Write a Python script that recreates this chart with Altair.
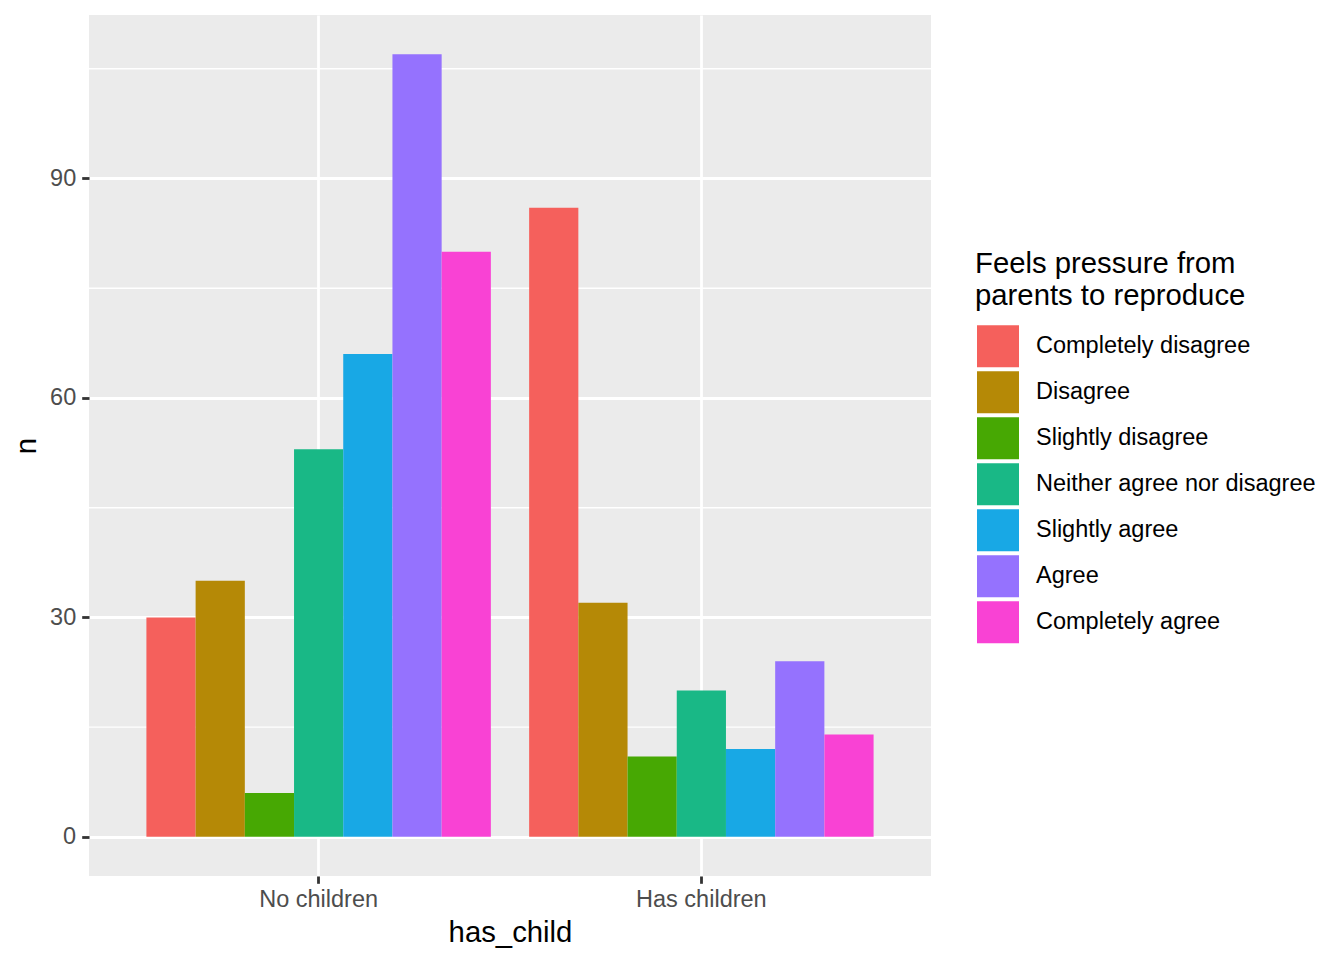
import altair as alt
import pandas as pd

groups = ["No children", "Has children"]
responses = ["Completely disagree", "Disagree", "Slightly disagree",
             "Neither agree nor disagree", "Slightly agree", "Agree",
             "Completely agree"]
n_no_children = [30, 35, 6, 53, 66, 107, 80]
n_has_children = [86, 32, 11, 20, 12, 24, 14]
colors = ["#F5605C", "#B58906", "#47A803", "#19B886", "#18A8E5", "#9572FE", "#F942D4"]
major_ticks = [0, 30, 60, 90]
minor_ticks = [15, 45, 75, 105]

rows = []
for g, vals in zip(groups, [n_no_children, n_has_children]):
    for r, v in zip(responses, vals):
        rows.append({"has_child": g, "response": r, "n": v})
df = pd.DataFrame(rows)
minor_df = pd.DataFrame({"minor": minor_ticks})

yscale = alt.Scale(domain=[-5.35, 112.35], nice=False, zero=False)
yaxis = alt.Axis(values=major_ticks, labelPadding=6, titlePadding=8, title="n")

minor = alt.Chart(minor_df).mark_rule(color="white", strokeWidth=1.4).encode(
    y=alt.Y("minor:Q", scale=yscale, axis=yaxis, title="n")
)

bars = alt.Chart(df).mark_bar().encode(
    x=alt.X("has_child:N", sort=groups, title="has_child",
            scale=alt.Scale(paddingInner=0.1, paddingOuter=0.15),
            axis=alt.Axis(grid=True, bandPosition=0.5, labelAngle=0,
                          labelPadding=4, titlePadding=8)),
    xOffset=alt.XOffset("response:N", sort=responses,
                        scale=alt.Scale(paddingInner=0, paddingOuter=0)),
    y=alt.Y("n:Q", scale=yscale, title="n", axis=yaxis),
    y2=alt.datum(0),
    color=alt.Color("response:N", sort=responses,
                    scale=alt.Scale(domain=responses, range=colors),
                    legend=alt.Legend(title=["Feels pressure from", "parents to reproduce"],
                                      orient="none", legendX=886, legendY=235,
                                      symbolType="square", symbolSize=1764,
                                      symbolStrokeWidth=0, symbolOffset=2,
                                      symbolOpacity=1, rowPadding=4,
                                      labelOffset=17, titlePadding=14,
                                      labelLimit=0, titleLimit=0)),
)

chart = alt.layer(minor, bars).properties(
    width=842, height=861,
    autosize=alt.AutoSizeParams(type="none"),
    padding={"left": 81, "top": 7, "right": 400, "bottom": 76},
).configure_view(
    fill="#EBEBEB", stroke=None
).configure_axis(
    labelFont="Liberation Sans", titleFont="Liberation Sans",
    labelFontSize=23.5, labelColor="#4D4D4D",
    titleFontSize=29.3, titleFontWeight="normal", titleColor="black",
    domain=False, tickColor="#333333", tickWidth=2.8, tickSize=7.3,
    gridColor="white", gridWidth=2.8,
).configure_legend(
    labelFont="Liberation Sans", titleFont="Liberation Sans",
    labelFontSize=23.5, labelColor="black",
    titleFontSize=29.3, titleFontWeight="normal", titleColor="black",
    titleLineHeight=32, padding=0,
)

chart.save("out.html", embed_options={"renderer": "svg", "actions": False})
